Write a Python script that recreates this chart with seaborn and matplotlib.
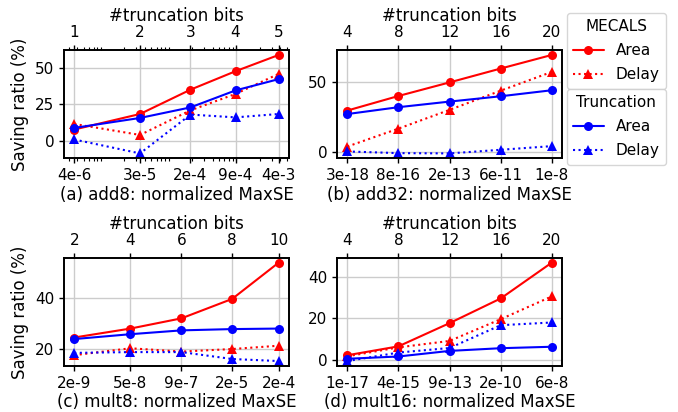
import matplotlib
matplotlib.use("Agg")
import matplotlib.pyplot as plt
import matplotlib.ticker as mticker
from matplotlib.lines import Line2D
import seaborn as sns

sns.set_theme(style="ticks")
plt.rcParams['font.family'] = ['DejaVu Sans']
plt.rcParams['font.size'] = 11
for k in ['axes.edgecolor', 'xtick.color', 'ytick.color', 'text.color', 'axes.labelcolor']:
    plt.rcParams[k] = 'black'

# ---- panel (a) add8 (log-scaled MaxSE axis)
a_maxse = [3.63e-6, 3.40e-5, 1.89e-4, 8.75e-4, 3.80e-3]
a_maxse_labels = ["4e-6", "3e-5", "2e-4", "9e-4", "4e-3"]
a_bits = ["1", "2", "3", "4", "5"]
a_mecals_area = [7.7, 18.3, 34.9, 47.5, 58.6]
a_mecals_delay = [11.5, 4.0, 20.8, 32.0, 45.7]
a_trunc_area = [8.8, 15.6, 22.8, 34.4, 42.1]
a_trunc_delay = [0.9, -8.6, 17.9, 16.0, 18.3]

# ---- panel (b) add32
b_bits = [4, 8, 12, 16, 20]
b_maxse_labels = ["3e-18", "8e-16", "2e-13", "6e-11", "1e-8"]
b_mecals_area = [29.9, 40.3, 50.0, 59.9, 69.6]
b_mecals_delay = [4.2, 17.0, 30.4, 44.1, 57.5]
b_trunc_area = [27.4, 32.3, 36.3, 40.1, 44.4]
b_trunc_delay = [0.7, -0.5, -0.7, 1.9, 4.5]

# ---- panel (c) mult8
c_maxse = [2.2e-9, 5.2e-8, 9.2e-7, 1.6e-5, 2.2e-4]
c_maxse_labels = ["2e-9", "5e-8", "9e-7", "2e-5", "2e-4"]
c_bits = ["2", "4", "6", "8", "10"]
c_mecals_area = [24.6, 28.1, 32.1, 39.7, 53.9]
c_mecals_delay = [17.7, 20.4, 19.1, 20.1, 21.4]
c_trunc_area = [24.0, 25.9, 27.4, 27.9, 28.1]
c_trunc_delay = [18.6, 18.9, 18.9, 16.2, 15.4]

# ---- panel (d) mult16
d_bits = [4, 8, 12, 16, 20]
d_maxse_labels = ["1e-17", "4e-15", "9e-13", "2e-10", "6e-8"]
d_mecals_area = [2.2, 6.5, 17.7, 29.6, 46.9]
d_mecals_delay = [1.7, 6.0, 9.1, 19.6, 30.6]
d_trunc_area = [0.5, 1.6, 4.3, 5.6, 6.3]
d_trunc_delay = [-0.6, 3.5, 5.7, 16.7, 18.0]

RED, BLUE = "red", "blue"
LW, MS = 1.5, 6.5

fig, axes = plt.subplots(2, 2, figsize=(6.78, 4.12), dpi=100)
fig.subplots_adjust(left=0.0944, right=0.829, top=0.8786, bottom=0.1117,
                    wspace=0.214, hspace=0.917)


def draw(ax, x, ma, md, ta, td):
    sns.lineplot(x=x, y=ma, ax=ax, color=RED, marker='o', markersize=MS,
                 markeredgewidth=0, linewidth=LW, linestyle='-')
    sns.lineplot(x=x, y=md, ax=ax, color=RED, marker='^', markersize=MS,
                 markeredgewidth=0, linewidth=LW, linestyle=':')
    sns.lineplot(x=x, y=ta, ax=ax, color=BLUE, marker='o', markersize=MS,
                 markeredgewidth=0, linewidth=LW, linestyle='-')
    sns.lineplot(x=x, y=td, ax=ax, color=BLUE, marker='^', markersize=MS,
                 markeredgewidth=0, linewidth=LW, linestyle=':')
    ax.grid(True, color='#cccccc', linewidth=1.0)
    ax.set_axisbelow(True)
    for s in ax.spines.values():
        s.set_color('black')
        s.set_linewidth(1.2)


panels = [
    (axes[0, 0], a_maxse, a_maxse_labels, a_bits, a_mecals_area, a_mecals_delay,
     a_trunc_area, a_trunc_delay, True, "(a) add8: normalized MaxSE", [0, 25, 50]),
    (axes[0, 1], b_bits, b_maxse_labels, [str(b) for b in b_bits], b_mecals_area,
     b_mecals_delay, b_trunc_area, b_trunc_delay, False,
     "(b) add32: normalized MaxSE", [0, 50]),
    (axes[1, 0], c_maxse, c_maxse_labels, c_bits, c_mecals_area, c_mecals_delay,
     c_trunc_area, c_trunc_delay, 'lognominor', "(c) mult8: normalized MaxSE", [20, 40]),
    (axes[1, 1], d_bits, d_maxse_labels, [str(b) for b in d_bits], d_mecals_area,
     d_mecals_delay, d_trunc_area, d_trunc_delay, False,
     "(d) mult16: normalized MaxSE", [0, 20, 40]),
]

for ax, x, xl, bits, ma, md, ta, td, logx, xlabel, yt in panels:
    if logx:
        ax.set_xscale('log')
    draw(ax, x, ma, md, ta, td)
    ax.set_xticks(x)
    ax.set_xticklabels(xl)
    if logx == 'lognominor':
        ax.xaxis.set_minor_locator(mticker.NullLocator())
    ax.set_yticks(yt)
    ax.set_xlabel(xlabel, labelpad=2)
    ax.set_ylabel("")
    ax.tick_params(axis='both', labelsize=11, length=3.5, width=1, pad=3.5)
    ax.tick_params(which='minor', length=2, width=0.8)
    top = ax.twiny()
    if logx:
        top.set_xscale('log')
    top.set_xlim(ax.get_xlim())
    top.set_xticks(x)
    top.set_xticklabels(bits)
    if logx == 'lognominor':
        top.xaxis.set_minor_locator(mticker.NullLocator())
    top.set_xlabel("#truncation bits", labelpad=3)
    top.tick_params(axis='x', labelsize=11, length=3.5, width=1, pad=3.5)
    top.tick_params(which='minor', length=2, width=0.8)
    top.grid(False)

axes[0, 0].set_ylabel("Saving ratio (%)")
axes[1, 0].set_ylabel("Saving ratio (%)")

h_area = lambda c: Line2D([], [], color=c, marker='o', markersize=MS,
                          markeredgewidth=0, linewidth=LW, linestyle='-')
h_delay = lambda c: Line2D([], [], color=c, marker='^', markersize=MS,
                           markeredgewidth=0, linewidth=LW, linestyle=':')
leg1 = fig.legend([h_area(RED), h_delay(RED)], ["Area", "Delay"], title="MECALS",
                  loc='upper left', bbox_to_anchor=(567 / 678, 1 - 13 / 412),
                  borderaxespad=0, fontsize=11, title_fontsize=11, frameon=True,
                  handlelength=2.0, labelspacing=0.6)
leg2 = fig.legend([h_area(BLUE), h_delay(BLUE)], ["Area", "Delay"], title="Truncation",
                  loc='upper left', bbox_to_anchor=(567 / 678, 1 - 89 / 412),
                  borderaxespad=0, fontsize=11, title_fontsize=11, frameon=True,
                  handlelength=2.0, labelspacing=0.6)

fig.savefig("out.png", dpi=100)
